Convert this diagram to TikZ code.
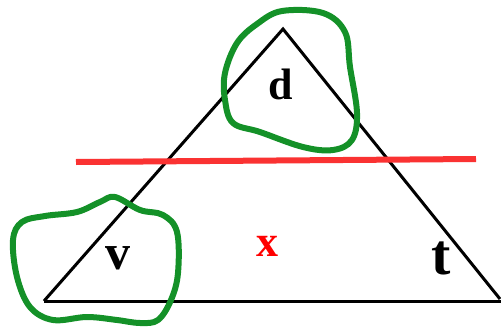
\documentclass[tikz,border=0pt]{standalone}
\usepackage{fontspec}
\setmainfont{Liberation Serif}
\begin{document}
\begin{tikzpicture}[x=1pt,y=-1pt,
  tri/.style={line width=3pt,black,line join=miter},
  cut/.style={line width=6pt,color={rgb,255:red,250;green,50;blue,50}},
  loop/.style={line width=6pt,color={rgb,255:red,20;green,145;blue,40},line join=round},
  lbl/.style={font=\bfseries,inner sep=0pt}]
\useasboundingbox (0,0) rectangle (501,327);
\coordinate (A) at (283,29);
\coordinate (L) at (44,301);
\coordinate (R) at (501,301);
\coordinate (Rt) at (500,299);
\draw[tri] (L) -- (A) -- (Rt);
\draw[tri] (L) -- (R);
\coordinate (c1) at (76,162);
\coordinate (c2) at (476,159);
\draw[cut] (c1) -- (c2);
\draw[loop] plot[smooth cycle,tension=0.6] coordinates{(282,11) (323,13) (345,32) (350,67) (357,113) (352,140) (333,150) (303,147) (260,132) (233,123) (225,100) (225,73) (237,43) (257,24)};
\draw[loop] plot[smooth cycle,tension=0.6] coordinates{(115,197) (140,210) (163,215) (177,232) (178,273) (171,300) (158,320) (140,323) (117,320) (87,317) (53,320) (30,307) (17,277) (13,240) (22,222) (45,216) (77,212) (100,202)};
\node[lbl,font=\bfseries\fontsize{44}{44}\selectfont] (d) at (281,84) {d};
\node[lbl,font=\bfseries\fontsize{50}{50}\selectfont] (v) at (118,258) {v};
\node[lbl,font=\bfseries\fontsize{44}{44}\selectfont,text=red] (x) at (267,246) {x};
\node[lbl,font=\bfseries\fontsize{58}{58}\selectfont] (t) at (441,258) {t};
\end{tikzpicture}
\end{document}
